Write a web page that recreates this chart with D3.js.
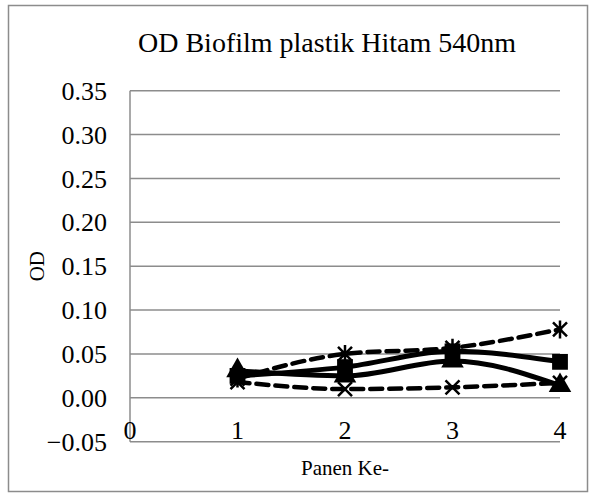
<!DOCTYPE html>
<html>
<head>
<meta charset="utf-8">
<script src="https://cdn.jsdelivr.net/npm/d3@7"></script>
<style>
  body { margin: 0; background: #fff; }
</style>
</head>
<body>
<div id="chart"></div>
<script>
// chart data
var panen = [1, 2, 3, 4];
var xTicks = [0, 1, 2, 3, 4];
var yTicks = [-0.05, 0, 0.05, 0.10, 0.15, 0.20, 0.25, 0.30, 0.35];
var seriesSquare = [0.025, 0.035, 0.053, 0.041];
var seriesTriangle = [0.031, 0.025, 0.042, 0.014];
var seriesCross = [0.018, 0.010, 0.012, 0.017];
var seriesStar = [0.022, 0.050, 0.057, 0.078];

var width = 589, height = 494;
var margin = { top: 90.7, right: 29, bottom: 52.3, left: 130 };
var serif = "'Liberation Serif', 'Times New Roman', Times, serif";

var svg = d3.select("#chart").append("svg")
    .attr("width", width)
    .attr("height", height)
    .style("font-family", serif);

// outer border
svg.append("rect")
    .attr("x", 8.5).attr("y", 5.5)
    .attr("width", 579).attr("height", 486)
    .style("fill", "none")
    .style("stroke", "#8c8c8c")
    .style("stroke-width", "1.5px");

var x = d3.scaleLinear().domain([0, 4]).range([margin.left, width - margin.right]);
var y = d3.scaleLinear().domain([-0.05, 0.35]).range([height - margin.bottom, margin.top]);

// gridlines
svg.append("g").selectAll("line")
    .data(yTicks)
    .enter().append("line")
    .attr("x1", x(0)).attr("x2", x(4))
    .attr("y1", function(d) { return y(d); })
    .attr("y2", function(d) { return y(d); })
    .style("stroke", "#8c8c8c")
    .style("stroke-width", "1.5px");

// y axis line
svg.append("line")
    .attr("x1", x(0)).attr("x2", x(0))
    .attr("y1", y(0.35)).attr("y2", y(-0.05))
    .style("stroke", "#8c8c8c")
    .style("stroke-width", "1.5px");

// y tick labels
svg.append("g").selectAll("text")
    .data(yTicks)
    .enter().append("text")
    .attr("x", x(0) - 23)
    .attr("y", function(d) { return y(d); })
    .attr("dy", "0.35em")
    .attr("text-anchor", "end")
    .style("font-size", "26px")
    .text(function(d) { return d3.format(".2f")(d); });

// x tick labels (axis crosses at 0)
svg.append("g").selectAll("text")
    .data(xTicks)
    .enter().append("text")
    .attr("x", function(d) { return x(d); })
    .attr("y", y(0) + 32)
    .attr("dy", "0.35em")
    .attr("text-anchor", "middle")
    .style("font-size", "26px")
    .text(function(d) { return d; });

// title
svg.append("text")
    .attr("x", 327)
    .attr("y", 52)
    .attr("text-anchor", "middle")
    .style("font-size", "28px")
    .text("OD Biofilm plastik Hitam 540nm");

// axis titles
svg.append("text")
    .attr("x", x(2))
    .attr("y", 475)
    .attr("text-anchor", "middle")
    .style("font-size", "21px")
    .text("Panen Ke-");

svg.append("text")
    .attr("transform", "translate(44," + y(0.15) + ") rotate(-90)")
    .attr("text-anchor", "middle")
    .style("font-size", "21px")
    .text("OD");

var series = [
    { values: seriesStar, dash: "12,7", marker: "star" },
    { values: seriesCross, dash: "12,7", marker: "cross" },
    { values: seriesTriangle, dash: null, marker: "triangle" },
    { values: seriesSquare, dash: null, marker: "square" }
];

var line = d3.line()
    .x(function(d, i) { return x(panen[i]); })
    .y(function(d) { return y(d); })
    .curve(d3.curveMonotoneX);

var crossPath = "M-7,-7L7,7M-7,7L7,-7";
var starPath = "M-7,-7L7,7M-7,7L7,-7M0,-9L0,9";

series.forEach(function(s) {
    svg.append("path")
        .datum(s.values)
        .attr("d", line)
        .style("fill", "none")
        .style("stroke", "#000")
        .style("stroke-width", s.dash ? "4.5px" : "5px")
        .style("stroke-linecap", s.dash ? "round" : "butt")
        .style("stroke-dasharray", s.dash);

    var g = svg.append("g").selectAll("path")
        .data(s.values)
        .enter().append("path")
        .attr("transform", function(d, i) { return "translate(" + x(panen[i]) + "," + y(d) + ")"; });

    if (s.marker == "square") {
        g.attr("d", d3.symbol().type(d3.symbolSquare).size(250)).style("fill", "#000");
    } else if (s.marker == "triangle") {
        g.attr("d", d3.symbol().type(d3.symbolTriangle).size(220)).style("fill", "#000");
    } else if (s.marker == "cross") {
        g.attr("d", crossPath).style("stroke", "#000").style("stroke-width", "2.5px").style("fill", "none");
    } else {
        g.attr("d", starPath).style("stroke", "#000").style("stroke-width", "2.5px").style("fill", "none");
    }
});
</script>
</body>
</html>
